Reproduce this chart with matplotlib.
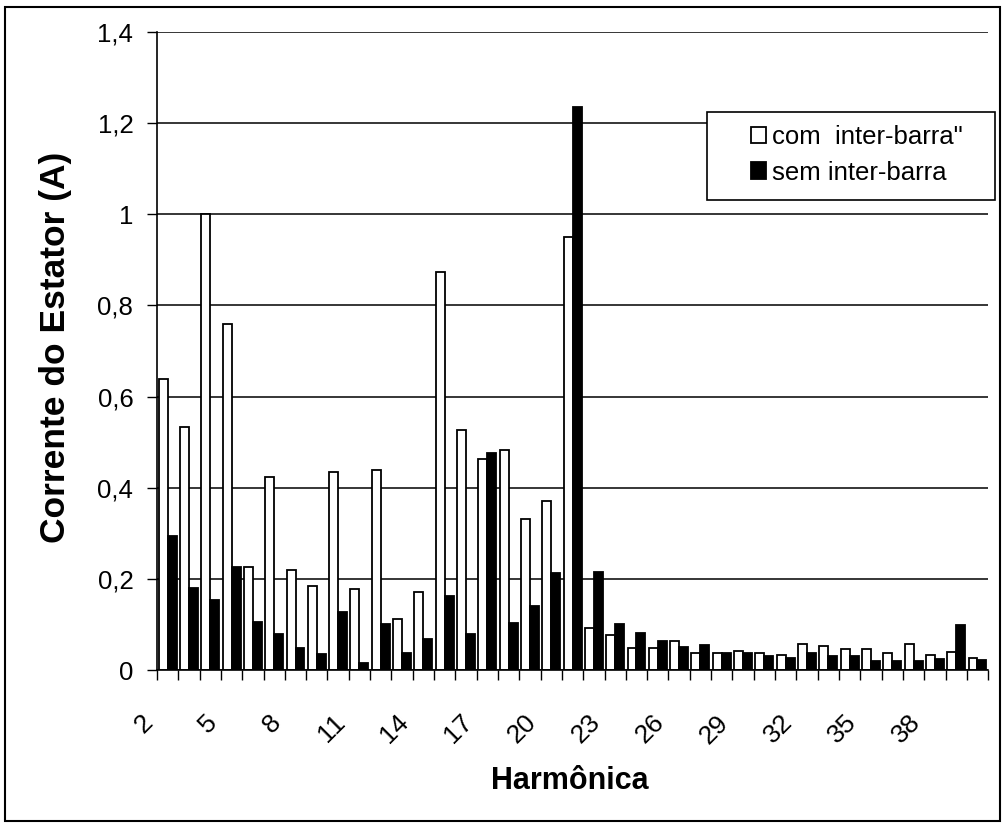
"""Corrente do estator por harmonica - com / sem inter-barra."""
import matplotlib
matplotlib.use("Agg")
import matplotlib.pyplot as plt
import numpy as np
from matplotlib.patches import Rectangle
from matplotlib.ticker import FuncFormatter, MultipleLocator
from matplotlib.transforms import ScaledTranslation

plt.rcParams["font.family"] = ["Liberation Sans", "DejaVu Sans"]

harmonicas = list(range(2, 41))
com_inter = [0.638, 0.533, 1.000, 0.760, 0.227, 0.423, 0.220, 0.184, 0.435,
             0.177, 0.439, 0.113, 0.172, 0.873, 0.526, 0.464, 0.483, 0.332,
             0.370, 0.951, 0.092, 0.076, 0.048, 0.048, 0.063, 0.038, 0.038,
             0.041, 0.038, 0.033, 0.057, 0.053, 0.045, 0.045, 0.037, 0.057,
             0.032, 0.040, 0.026]
sem_inter = [0.293, 0.179, 0.154, 0.225, 0.106, 0.080, 0.048, 0.035, 0.127,
             0.015, 0.102, 0.038, 0.069, 0.162, 0.079, 0.476, 0.104, 0.141,
             0.212, 1.235, 0.214, 0.101, 0.081, 0.064, 0.051, 0.054, 0.038,
             0.038, 0.030, 0.026, 0.037, 0.030, 0.030, 0.020, 0.020, 0.019,
             0.024, 0.099, 0.023]
rotulos = ["com  inter-barra\"", "sem inter-barra"]

fig = plt.figure(figsize=(10.03, 8.23), dpi=100)
ax = fig.add_axes([0.1565, 0.1859, 0.8287, 0.7752])

x = np.arange(len(harmonicas))
w = 0.42
ax.bar(x - w / 2, com_inter, w, color="white", edgecolor="black", lw=1.3,
       label=rotulos[0], zorder=2)
ax.bar(x + w / 2, sem_inter, w, color="black", edgecolor="black", lw=1.3,
       label=rotulos[1], zorder=2)

ax.set_xlim(-0.5, len(harmonicas) - 0.5)
ax.set_ylim(0, 1.4)
ax.yaxis.set_major_locator(MultipleLocator(0.2))
ax.yaxis.set_major_formatter(
    FuncFormatter(lambda v, p: f"{round(v, 1):g}".replace(".", ",")))
ax.set_axisbelow(True)
ax.grid(axis="y", color="black", lw=1.1)

# labels every 3rd harmonic, tick marks on category boundaries
ax.set_xticks(x[::3])
ax.set_xticklabels([str(h) for h in harmonicas[::3]], rotation=45,
                   ha="right", va="top")
ax.set_xticks(np.arange(len(harmonicas) + 1) - 0.5, minor=True)
ax.tick_params(axis="x", which="major", length=0, pad=29, labelsize=19)
ax.tick_params(axis="x", which="minor", length=7, width=1, direction="out")
ax.tick_params(axis="y", length=7, width=1, pad=10, labelsize=18.5)
shift = ScaledTranslation(-0.10, 0, fig.dpi_scale_trans)
for lab in ax.get_xticklabels():
    lab.set_transform(lab.get_transform() + shift)

for s in ("top", "right"):
    ax.spines[s].set_visible(False)
for s in ("left", "bottom"):
    ax.spines[s].set_linewidth(1.2)

ax.set_ylabel("Corrente do Estator (A)", fontsize=25.5, fontweight="bold")
ax.set_xlabel("Harmônica", fontsize=22, fontweight="bold")
ax.yaxis.set_label_coords(-0.102, 0.505)
ax.xaxis.set_label_coords(0.497, -0.150)

# legend box drawn separately (wider than its content, as in the original)
ax.add_patch(Rectangle((707 / 1003, 1 - 200 / 823), 288 / 1003, 88 / 823,
                       transform=fig.transFigure, facecolor="white",
                       edgecolor="black", lw=1.2, clip_on=False, zorder=4))
ax.legend(loc="upper left", bbox_to_anchor=(733 / 1003, 1 - 107 / 823),
          bbox_transform=fig.transFigure, frameon=False, fontsize=18.5,
          handlelength=0.6, handleheight=0.6, handletextpad=0.2,
          labelspacing=0.45, borderpad=0.2)

# outer chart frame
fig.patches.append(Rectangle((5 / 1003, 2 / 823), 995 / 1003, 814 / 823,
                             transform=fig.transFigure, fill=False,
                             edgecolor="black", lw=1.5))

fig.savefig("out.png", dpi=100)
